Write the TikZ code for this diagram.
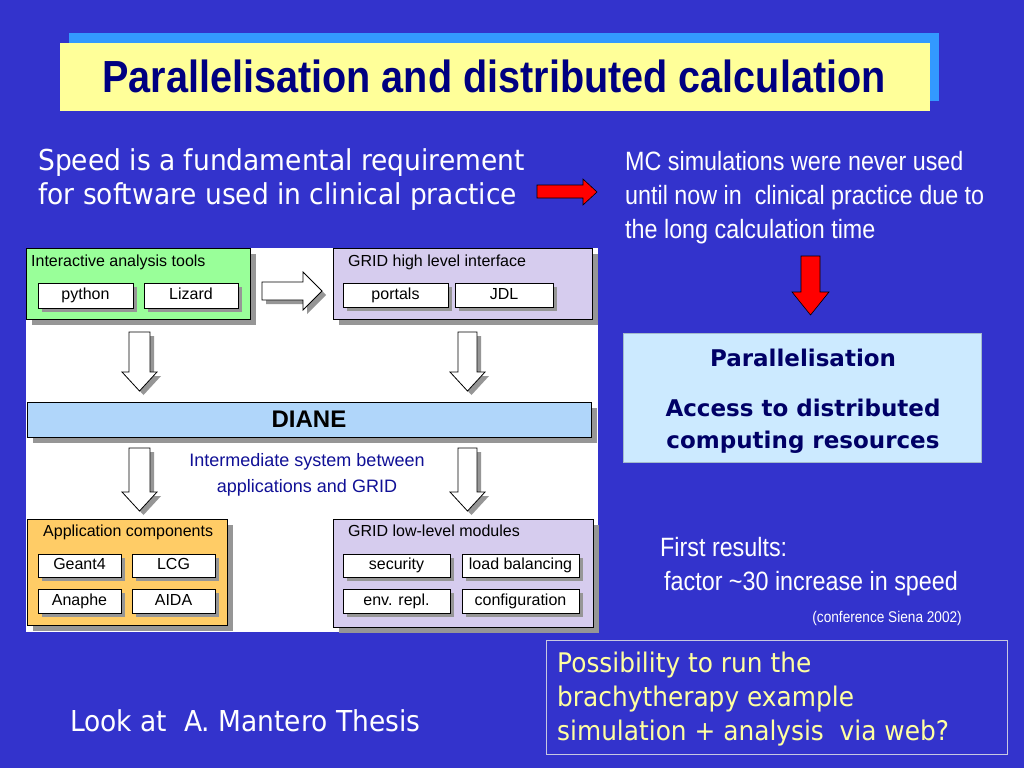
\documentclass[tikz,border=0pt]{standalone}
\usepackage{fontspec}
\setmainfont{Liberation Sans}
\newfontfamily\arialn[FakeStretch=0.88]{Liberation Sans}
\newfontfamily\comicf[FakeStretch=0.92]{DejaVu Sans}
\newfontfamily\comicb{DejaVu Sans}
\usetikzlibrary{shadows}
\definecolor{bgblue}{RGB}{51,51,204}
\definecolor{titleshadow}{RGB}{51,153,255}
\definecolor{titleyellow}{RGB}{255,255,153}
\definecolor{navy}{RGB}{0,0,128}
\definecolor{darknavy}{RGB}{0,0,102}
\definecolor{boxgreen}{RGB}{153,255,153}
\definecolor{boxlav}{RGB}{214,204,238}
\definecolor{boxorange}{RGB}{255,204,102}
\definecolor{dianeblue}{RGB}{176,214,250}
\definecolor{paralblue}{RGB}{204,234,255}
\definecolor{shadowgray}{RGB}{150,150,150}
\definecolor{interblue}{RGB}{16,16,150}
\definecolor{paleyellow}{RGB}{255,255,160}
\definecolor{frameline}{RGB}{200,200,225}
\tikzset{
  sh/.style={drop shadow={shadow xshift=6pt,shadow yshift=-6pt,fill=shadowgray,opacity=1}},
  shsmall/.style={drop shadow={shadow xshift=4pt,shadow yshift=-4pt,fill=shadowgray,opacity=1}},
  bigbox/.style={draw=black,line width=0.8pt,inner sep=0pt,sh},
  item/.style={draw=black,line width=0.8pt,fill=white,inner sep=0pt,shsmall,
     text height=11.5pt,text depth=3.5pt,font=\fontsize{16}{19}\selectfont},
  boxtitle/.style={anchor=base west,inner sep=0pt,font=\fontsize{16}{19}\selectfont},
  hollow/.style={draw=black,line width=0.8pt,fill=white,shsmall},
  redarrow/.style={draw=black,line width=0.6pt,fill=red},
  comictext/.style={anchor=base west,inner sep=0pt,text=white,font=\comicf\fontsize{28.8}{34}\selectfont},
  yellowtext/.style={anchor=base west,inner sep=0pt,text=paleyellow,font=\comicf\fontsize{27}{34}\selectfont},
  ariatext/.style={anchor=base west,inner sep=0pt,text=white,font=\arialn\fontsize{26.5}{34}\selectfont},
  paraltext/.style={anchor=base,inner sep=0pt,text=darknavy,font=\comicb\bfseries\fontsize{23}{28}\selectfont},
}
\begin{document}
\begin{tikzpicture}[x=1pt,y=-1pt]
\useasboundingbox (0,0) rectangle (1024,768);
\fill[bgblue] (0,0) rectangle (1024,768);

% title
\node[fill=titleyellow,minimum width=870pt,minimum height=68pt,inner sep=0pt,
  drop shadow={shadow xshift=9pt,shadow yshift=10pt,fill=titleshadow,opacity=1}]
  (titlebox) at (495,77) {};
\node[anchor=base,inner sep=0pt,text=navy,font=\arialn\bfseries\fontsize{45}{50}\selectfont]
  (title) at (494,92) {Parallelisation and distributed calculation};

% left statement
\node[comictext] (speed1) at (38,170) {Speed is a fundamental requirement};
\node[comictext] (speed2) at (38,204) {for software used in clinical practice};

% red right arrow
\draw[redarrow] (537,185) -- (583,185) -- (583,179) -- (597,192) -- (583,205) -- (583,198) -- (537,198) -- cycle;

% MC text
\node[ariatext] (mc1) at (625,170) {MC simulations were never used};
\node[ariatext] (mc2) at (625,204) {until now in\ \ clinical practice due to};
\node[ariatext] (mc3) at (625,238) {the long calculation time};

% red down arrow
\draw[redarrow] (801,256) -- (820,256) -- (820,292) -- (829,292) -- (810.5,315) -- (792,292) -- (801,292) -- cycle;

% parallelisation box
\node[fill=paralblue,draw=paralblue!80!black,line width=0.4pt,minimum width=358pt,minimum height=129pt,inner sep=0pt]
  (parbox) at (802,397.5) {};
\node[paraltext] (par1) at (803,366) {Parallelisation};
\node[paraltext] (par2) at (803,416) {Access to distributed};
\node[paraltext] (par3) at (803,448) {computing resources};

% first results
\node[ariatext] (fr1) at (660,556) {First results:};
\node[ariatext] (fr2) at (664,590) {factor \textasciitilde30 increase in speed};
\node[anchor=base east,inner sep=0pt,text=white,font=\arialn\fontsize{15.5}{18}\selectfont]
  (conf) at (962,622) {(conference Siena 2002)};

% bottom right box
\node[draw=frameline,line width=0.8pt,minimum width=461pt,minimum height=114pt,inner sep=0pt]
  (possbox) at (776.5,697) {};
\node[yellowtext] (p1) at (557,672) {Possibility to run the};
\node[yellowtext] (p2) at (557,706) {brachytherapy example};
\node[yellowtext] (p3) at (557,740) {simulation + analysis\ \ via web?};

% look at
\node[comictext] (look) at (70,731) {Look at\ \ A. Mantero Thesis};

% diagram panel
\fill[white] (26,248) rectangle (598,632);

% top-left green box
\node[bigbox,fill=boxgreen,minimum width=224pt,minimum height=71pt] (gbox) at (138,283.5) {};
\node[boxtitle] (gtitle) at (31,266) {Interactive analysis tools};
\node[item,minimum width=95pt,minimum height=25pt] (python) at (85.5,295.5) {python};
\node[item,minimum width=94pt,minimum height=25pt] (lizard) at (191,295.5) {Lizard};

% top-right lavender box
\node[bigbox,fill=boxlav,minimum width=259pt,minimum height=71pt] (hbox) at (462.5,283.5) {};
\node[boxtitle] (htitle) at (348,266) {GRID high level interface};
\node[item,minimum width=105pt,minimum height=24pt] (portals) at (395.5,295) {portals};
\node[item,minimum width=98pt,minimum height=24pt] (jdl) at (504,295) {JDL};

% hollow right arrow
\draw[hollow] (262,282) -- (303,282) -- (303,272) -- (322,291) -- (303,310) -- (303,300) -- (262,300) -- cycle;

% upper down arrows
\draw[hollow] (129,332) -- (150,332) -- (150,372) -- (157,372) -- (139.5,391) -- (122,372) -- (129,372) -- cycle;
\draw[hollow] (458,332) -- (477,332) -- (477,372) -- (485,372) -- (467.5,391) -- (450,372) -- (458,372) -- cycle;

% DIANE
\node[bigbox,fill=dianeblue,minimum width=564pt,minimum height=35pt,
  font=\bfseries\fontsize{24}{28}\selectfont] (diane) at (309,419.5) {DIANE};

% lower down arrows
\draw[hollow] (129,448) -- (150,448) -- (150,492) -- (157,492) -- (139.5,511) -- (122,492) -- (129,492) -- cycle;
\draw[hollow] (458,448) -- (477,448) -- (477,492) -- (485,492) -- (467.5,511) -- (450,492) -- (458,492) -- cycle;

\node[anchor=base,inner sep=0pt,text=interblue,font=\fontsize{18}{22}\selectfont] (inter1) at (307,466) {Intermediate system between};
\node[anchor=base,inner sep=0pt,text=interblue,font=\fontsize{18}{22}\selectfont] (inter2) at (307,492) {applications and GRID};

% bottom-left orange box
\node[bigbox,fill=boxorange,minimum width=200pt,minimum height=106pt] (abox) at (127,572) {};
\node[boxtitle] (atitle) at (43,536) {Application components};
\node[item,minimum width=83pt,minimum height=23pt] (geant) at (79.5,565.5) {Geant4};
\node[item,minimum width=83pt,minimum height=23pt] (lcg) at (173.5,565.5) {LCG};
\node[item,minimum width=83pt,minimum height=24pt] (anaphe) at (79.5,601) {Anaphe};
\node[item,minimum width=83pt,minimum height=24pt] (aida) at (173.5,601) {AIDA};

% bottom-right lavender box
\node[bigbox,fill=boxlav,minimum width=260pt,minimum height=108pt] (lbox) at (463,573) {};
\node[boxtitle] (ltitle) at (348,536) {GRID low-level modules};
\node[item,minimum width=107pt,minimum height=23pt] (security) at (396.5,565.5) {security};
\node[item,minimum width=117pt,minimum height=23pt] (load) at (520.5,565.5) {load balancing};
\node[item,minimum width=107pt,minimum height=24pt] (env) at (396.5,601) {env. repl.};
\node[item,minimum width=117pt,minimum height=24pt] (config) at (520.5,601) {configuration};
\end{tikzpicture}
\end{document}
